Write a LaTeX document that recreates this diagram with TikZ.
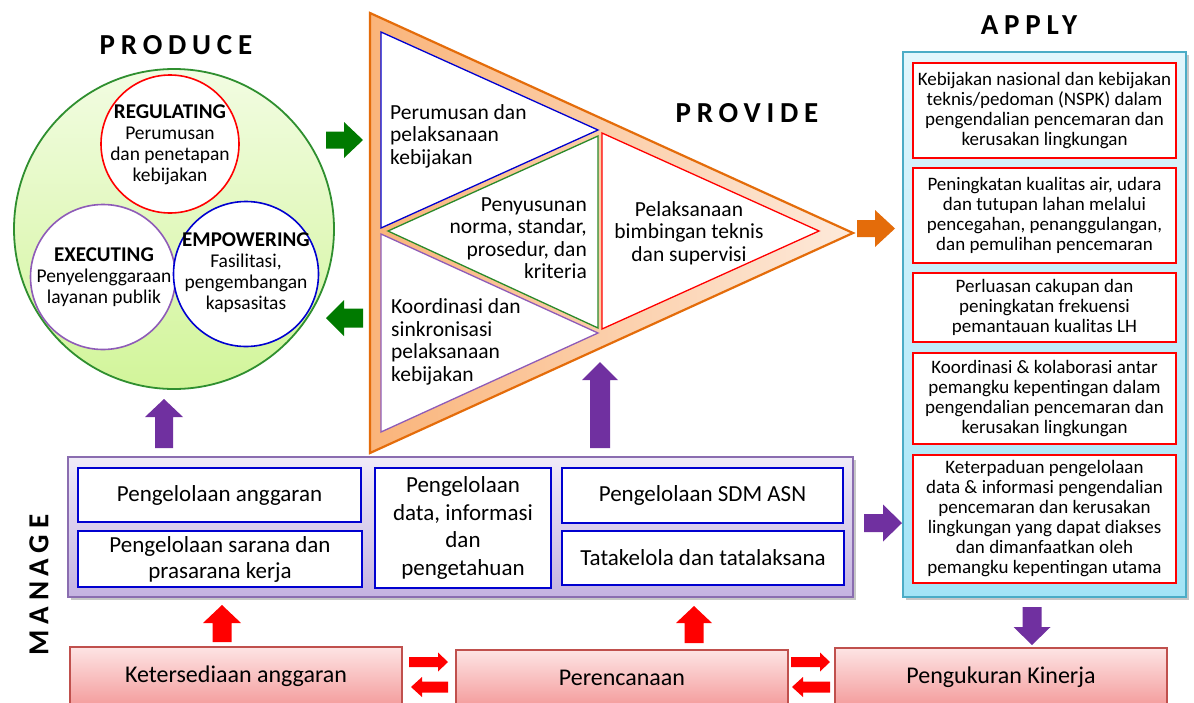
\documentclass[tikz,border=0pt]{standalone}
\usepackage{fontspec}
\setmainfont{Carlito}
\newfontfamily\hdrfont[LetterSpace=20]{Carlito}
\definecolor{grnA}{HTML}{007A00}
\definecolor{orgA}{HTML}{E46C0A}
\definecolor{purA}{HTML}{7030A0}
\definecolor{redA}{HTML}{FF0000}
\definecolor{circEdge}{HTML}{2F8F2F}
\definecolor{circTop}{HTML}{F2FCE2}
\definecolor{circBot}{HTML}{D2F59A}
\definecolor{triL}{HTML}{FAB47A}
\definecolor{triR}{HTML}{FDEADB}
\definecolor{apTop}{HTML}{E2F6FC}
\definecolor{apBot}{HTML}{A3E4F6}
\definecolor{apEdge}{HTML}{4BACC6}
\definecolor{mgTop}{HTML}{F0EBF8}
\definecolor{mgBot}{HTML}{C4B2E0}
\definecolor{mgEdge}{HTML}{8A6DB0}
\definecolor{pkTop}{HTML}{FDE4E4}
\definecolor{pkBot}{HTML}{F49C9C}
\definecolor{pkEdge}{HTML}{C0504D}
\definecolor{bluA}{HTML}{0000D0}
\definecolor{purB}{HTML}{8E5BB8}
\definecolor{grnB}{HTML}{2A8A2A}
\newcommand\BlkH[7]{\fill[#1] (#2,{#5-#6}) -- (#4,{#5-#6}) -- (#4,{#5-#7}) -- (#3,#5) -- (#4,{#5+#7}) -- (#4,{#5+#6}) -- (#2,{#5+#6}) -- cycle;}
\newcommand\BlkV[7]{\fill[#1] ({#5-#6},#2) -- ({#5-#6},#4) -- ({#5-#7},#4) -- (#5,#3) -- ({#5+#7},#4) -- ({#5+#6},#4) -- ({#5+#6},#2) -- cycle;}
\tikzset{
  hdr/.style={font=\hdrfont\bfseries\fontsize{29}{30}\selectfont, inner sep=0pt},
  apbox/.style={draw=redA, line width=1.4pt, fill=white, minimum width=263pt, align=center, inner sep=0pt, font=\fontsize{19}{20}\selectfont},
  mgbox/.style={draw=bluA, line width=1.4pt, fill=white, align=center, inner sep=0pt, font=\fontsize{23}{26}\selectfont},
  pkbox/.style={draw=pkEdge, line width=1.2pt, top color=pkTop, bottom color=pkBot, minimum width=332pt, inner sep=0pt, font=\fontsize{24}{26}\selectfont},
  ctxt/.style={align=center, inner sep=0pt, font=\fontsize{19.5}{21}\selectfont},
  ttxt/.style={inner sep=0pt, font=\fontsize{21.5}{22.5}\selectfont},
}
\begin{document}
\begin{tikzpicture}[x=1pt,y=-1pt]
\useasboundingbox (0,0) rectangle (1194,702);
\fill[white] (0,0) rectangle (1194,702);

% ---------- PRODUCE ----------
\node[hdr] (produce) at (176,45) {PRODUCE};
\shade[top color=circTop, bottom color=circBot] (174,229) circle[radius=160];
\draw[circEdge, line width=1.8pt] (174,229) circle[radius=160];
\node[circle, draw=redA, line width=1.6pt, fill=white, minimum size=138pt, inner sep=0pt] (regc) at (170,144) {};
\node[circle, draw=purB, line width=1.6pt, fill=white, minimum size=145pt, inner sep=0pt] (exec) at (103,277) {};
\node[circle, draw=bluA, line width=1.6pt, fill=white, minimum size=145pt, inner sep=0pt] (empc) at (246,274) {};
\node[ctxt] (regt) at (170,145) {{\bfseries\fontsize{21}{21}\selectfont REGULATING}\\Perumusan\\dan penetapan\\kebijakan};
\node[ctxt] (exet) at (104,277) {{\bfseries\fontsize{21}{21}\selectfont EXECUTING}\\Penyelenggaraan\\layanan publik};
\node[ctxt] (empt) at (246,273) {{\bfseries\fontsize{21}{21}\selectfont EMPOWERING}\\Fasilitasi,\\pengembangan\\kapsasitas};

% green arrows
\BlkH{grnA}{326}{363}{344}{140}{8.5}{18}
\BlkH{grnA}{363}{326}{344}{318}{9.5}{18}

% ---------- PROVIDE ----------
\shade[left color=triL, right color=triR] (370,13) -- (370,453) -- (853,233) -- cycle;
\draw[orgA, line width=2.2pt, line join=miter] (370,13) -- (370,453) -- (853,233) -- cycle;
\filldraw[fill=white, draw=bluA, line width=1.3pt] (381,32) -- (381,228) -- (598,130) -- cycle;
\filldraw[fill=white, draw=grnB, line width=1.3pt] (388,231) -- (598,136) -- (598,328) -- cycle;
\filldraw[fill=white, draw=purB, line width=1.3pt] (381,234) -- (381,432) -- (598,333) -- cycle;
\filldraw[fill=white, draw=redA, line width=1.3pt] (602,133) -- (602,329) -- (819,231) -- cycle;
\node[hdr] (provide) at (747,113) {PROVIDE};
\node[ttxt, anchor=west, align=left] (t1) at (390,136) {Perumusan dan\\pelaksanaan\\kebijakan};
\node[ttxt, anchor=east, align=right] (t2) at (587,238) {Penyusunan\\norma, standar,\\prosedur, dan\\kriteria};
\node[ttxt, align=center] (t3) at (689,233) {Pelaksanaan\\bimbingan teknis\\dan supervisi};
\node[ttxt, anchor=west, align=left] (t4) at (391,342) {Koordinasi dan\\sinkronisasi\\pelaksanaan\\kebijakan};

\BlkH{orgA}{857}{895}{875}{228.5}{8.5}{18.5}
\BlkV{purA}{448}{362}{380}{600}{10}{18}
\BlkV{purA}{448}{399}{417}{164}{9}{19}

% ---------- APPLY ----------
\node[hdr] (apply) at (1029,25) {APPLY};
\fill[black, opacity=0.22] (906,55) rectangle (1189,600);
\draw[apEdge, line width=1.6pt, top color=apTop, bottom color=apBot] (903,52) rectangle (1186,597);
\node[apbox, minimum height=95pt] (a1) at (1044.5,110.5) {Kebijakan nasional dan kebijakan\\teknis/pedoman (NSPK) dalam\\pengendalian pencemaran dan\\kerusakan lingkungan};
\node[apbox, minimum height=95pt] (a2) at (1044.5,215.5) {Peningkatan kualitas air, udara\\dan tutupan lahan melalui\\pencegahan, penanggulangan,\\dan pemulihan pencemaran};
\node[apbox, minimum height=69pt] (a3) at (1044.5,307.5) {Perluasan cakupan dan\\peningkatan frekuensi\\pemantauan kualitas LH};
\node[apbox, minimum height=91pt] (a4) at (1044.5,398.5) {Koordinasi \& kolaborasi antar\\pemangku kepentingan dalam\\pengendalian pencemaran dan\\kerusakan lingkungan};
\node[apbox, minimum height=128pt] (a5) at (1044.5,519) {Keterpaduan pengelolaan\\data \& informasi pengendalian\\pencemaran dan kerusakan\\lingkungan yang dapat diakses\\dan dimanfaatkan oleh\\pemangku kepentingan utama};

% ---------- MANAGE ----------
\node[hdr, rotate=90] (manage) at (39,585) {MANAGE};
\fill[black, opacity=0.22] (71,460) rectangle (856,600);
\draw[mgEdge, line width=1.4pt, top color=mgTop, bottom color=mgBot] (68,457) rectangle (853,597);
\node[mgbox, minimum width=283pt, minimum height=54pt] (m1) at (219.5,495) {Pengelolaan anggaran};
\node[mgbox, minimum width=284pt, minimum height=56pt] (m2) at (220,559) {Pengelolaan sarana dan\\prasarana kerja};
\node[mgbox, minimum width=176pt, minimum height=120pt, font=\fontsize{23}{27.7}\selectfont] (m3) at (463,528) {Pengelolaan\\data, informasi\\dan\\pengetahuan};
\node[mgbox, minimum width=281pt, minimum height=55pt] (m4) at (702.5,495.5) {Pengelolaan SDM ASN};
\node[mgbox, minimum width=282pt, minimum height=54pt] (m5) at (703,558) {Tatakelola dan tatalaksana};

\BlkH{purA}{864}{902}{883}{523}{9}{18.5}

% ---------- bottom row ----------
\node[pkbox, minimum height=59pt] (k1) at (236,676.5) {Ketersediaan anggaran};
\node[pkbox, minimum height=56pt] (k2) at (622,678) {Perencanaan};
\node[pkbox, minimum height=58pt] (k3) at (1001,677) {Pengukuran Kinerja};

\BlkV{redA}{642}{605}{623}{222}{9.5}{19}
\BlkV{redA}{643}{606}{623}{694}{9.5}{18}
\BlkV{purA}{607}{645}{627}{1032}{9.5}{18.5}
\BlkH{redA}{409}{448}{438}{662}{5}{9.5}
\BlkH{redA}{448}{411}{422}{687}{5.5}{10}
\BlkH{redA}{791}{830}{820}{662}{5}{9.5}
\BlkH{redA}{830}{792}{803}{687}{5.5}{10}
\end{tikzpicture}
\end{document}
